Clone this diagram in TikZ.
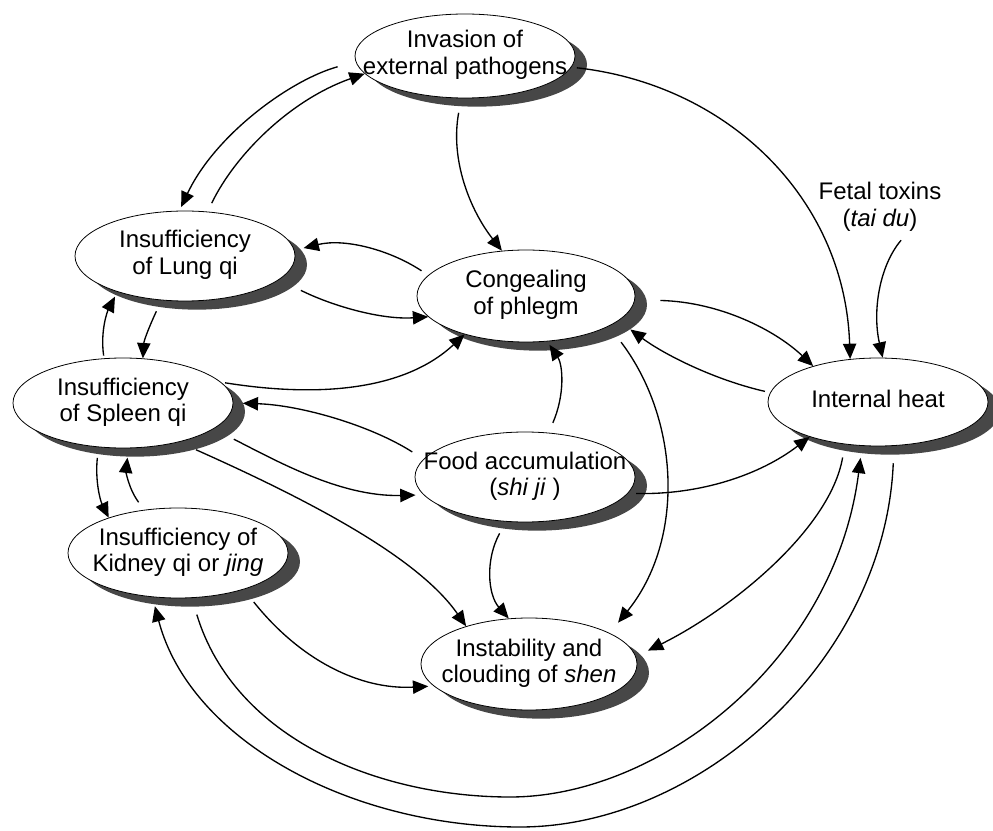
\documentclass[tikz,border=0pt]{standalone}
\usepackage{fontspec}
\setmainfont{Liberation Sans}
\usetikzlibrary{arrows.meta,shapes,shadows}
\newcommand{\bubbletext}[1]{\makebox[0pt]{\begin{tabular}{@{}c@{}}#1\end{tabular}}}

\begin{document}
\begin{tikzpicture}[x=0.75pt,y=-0.75pt,
	bubble/.style={ellipse, draw, line width=0.6pt, fill=white, minimum width=165pt, minimum height=67.5pt, inner sep=0pt, font=\fontsize{18}{20}\selectfont, drop shadow={shadow xshift=9pt, shadow yshift=-6.5pt, fill=black!72, opacity=1}},
	link/.style={line width=1pt, -{Triangle[length=11.5pt,width=10pt]}}]
	
	\useasboundingbox (0,0) rectangle (993,831);
	
	\node[bubble, minimum height=63pt] (inv) at (465,56) {\bubbletext{Invasion of\\external pathogens}};
	\node[bubble] (lung) at (185,256) {\bubbletext{Insufficiency\\of Lung qi}};
	\node[bubble] (spleen) at (123,403) {\bubbletext{Insufficiency\\of Spleen qi}};
	\node[bubble] (kidney) at (178,553) {\bubbletext{Insufficiency of\\Kidney qi or \textit{jing}}};
	\node[bubble, minimum width=163.5pt, minimum height=69pt] (cong) at (526,296) {\bubbletext{Congealing\\of phlegm}};
	\node[bubble] (food) at (525,477) {\bubbletext{Food accumulation\\(\textit{shi ji} )}};
	\node[bubble, minimum height=66pt] (heat) at (878,402) {\bubbletext{Internal heat}};
	\node[bubble, minimum width=162pt, minimum height=69pt] (inst) at (529,664) {\bubbletext{Instability and\\clouding of \textit{shen}}};
	\node[font=\fontsize{18}{20}\selectfont, align=center] (fetal) at (880,207) {Fetal toxins\\(\textit{tai du})};
	
	\draw[link, shorten <=14pt, shorten >=3pt] (inv.183) .. controls (290,80) and (215,135) .. (lung.97);
	\draw[link, shorten <=7pt] (lung.63) .. controls (235,155) and (290,100) .. (inv.190);
	\draw[link, shorten <=18pt] (lung.-14) .. controls (330,305) and (380,320) .. (cong.192);
	\draw[link, shorten <=6pt, shorten >=7pt] (cong.168) .. controls (390,250) and (345,238) .. (lung.3);
	\draw[link, shorten <=2pt, shorten >=4pt] (spleen.113) .. controls (100,330) and (108,310) .. (lung.208);
	\draw[link, shorten <=9pt] (lung.242) .. controls (150,325) and (144,340) .. (spleen.66);
	\draw[link, shorten <=3pt] (spleen.12) .. controls (320,398) and (405,390) .. (cong.212);
	\draw[link, shorten <=10pt, shorten >=7pt] (food.170) .. controls (370,425) and (300,405) .. (spleen.0);
	\draw[link, shorten <=17pt, shorten >=6pt] (spleen.-16) .. controls (275,460) and (340,497) .. (food.190);
	\draw[link, shorten <=14pt] (spleen.-35) .. controls (320,505) and (420,560) .. (inst.149);
	\draw[link, shorten <=8pt] (spleen.241) .. controls (95,480) and (100,500) .. (kidney.153);
	\draw[link, shorten <=7pt, shorten >=7pt] (kidney.128) .. controls (128,488) and (126,470) .. (spleen.-83);
	\draw[link, shorten <=12pt, shorten >=4pt] (kidney.-29) .. controls (300,660) and (360,690) .. (inst.193);
	
	\draw[link, shorten <=11pt] (inv.265) .. controls (450,160) and (470,210) .. (cong.118);
	\draw[link, shorten <=4pt] (inv.-6) .. controls (730,85) and (845,200) .. (heat.123);
	\draw[link, shorten <=4pt] (fetal.-50) .. controls (880,265) and (872,310) .. (heat.84);
	\draw[link, shorten <=19pt] (cong.-2) .. controls (720,302) and (775,330) .. (heat.151);
	\draw[link, shorten <=4pt, shorten >=11pt] (heat.175) .. controls (715,380) and (665,355) .. (cong.-15);
	\draw[link, shorten <=6pt] (food.-9) .. controls (700,495) and (760,475) .. (heat.207);
	\draw[link, shorten <=8pt, shorten >=3pt] (food.62) .. controls (565,395) and (563,365) .. (cong.-65);
	\draw[link, shorten <=10pt] (food.247) .. controls (485,560) and (488,595) .. (inst.114);
	\draw[link, shorten <=15pt, shorten >=10pt] (cong.-20) .. controls (680,420) and (685,540) .. (inst.21);
	\draw[link, shorten <=10pt, shorten >=10pt] (heat.232) .. controls (830,530) and (730,610) .. (inst.4);
	
	\draw[link, shorten <=13pt, shorten >=9pt] (kidney.-73) .. controls (235,740) and (380,797) .. (510,797) .. controls (660,797) and (835,660) .. (heat.250);
	\draw[link, shorten <=13pt, shorten >=7pt] (heat.-70) .. controls (885,660) and (700,827) .. (520,827) .. controls (350,827) and (190,740) .. (kidney.240);
	
\end{tikzpicture}
\end{document}
